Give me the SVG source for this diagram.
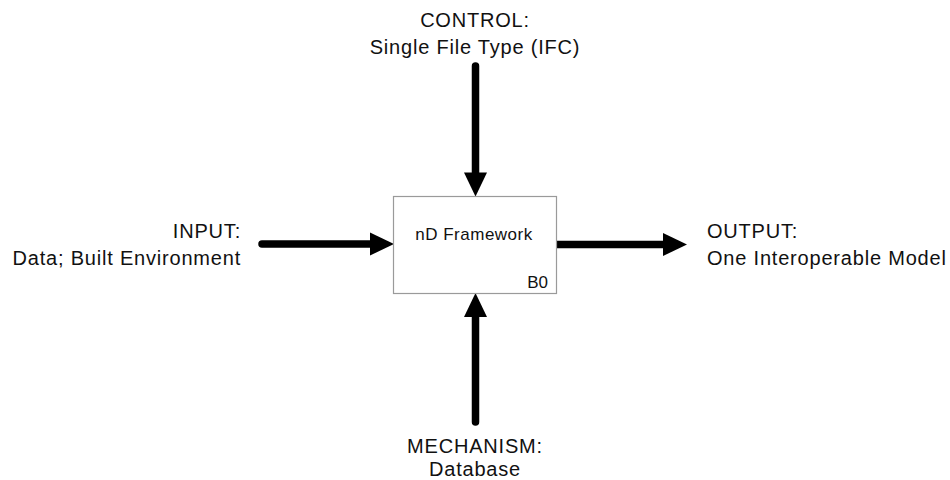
<svg xmlns="http://www.w3.org/2000/svg" width="950" height="480" viewBox="0 0 950 480">
  <style>
    .lbl { font-family: "Liberation Sans", Arial, sans-serif; font-size: 20px; letter-spacing: 0.8px; fill: #111; }
    .box { fill: #fff; stroke: #9a9a9a; stroke-width: 1.2; }
    .title { font-family: "Liberation Sans", Arial, sans-serif; font-size: 17px; letter-spacing: 0.5px; fill: #111; }
    .tag { font-family: "Liberation Sans", Arial, sans-serif; font-size: 17px; fill: #111; }
    .flow { fill: none; stroke: #000; stroke-width: 7.5; stroke-linecap: round; marker-end: url(#head); }
  </style>
  <defs>
    <marker id="head" markerUnits="userSpaceOnUse" markerWidth="25" markerHeight="24" refX="0" refY="11.5" orient="auto" overflow="visible">
      <path d="M0,0 L24,11.5 L0,23 Z" fill="#000"/>
    </marker>
  </defs>
  <rect width="950" height="480" fill="#fff"/>

  <!-- ICOM arrows into and out of the activity box -->
  <g id="connectors">
    <path id="control-arrow" class="flow" d="M475.5,66 L475.5,172.5"/>
    <path id="input-arrow" class="flow" d="M262,244 L370,244"/>
    <path id="output-arrow" class="flow" d="M557,244.5 L663,244.5"/>
    <path id="mechanism-arrow" class="flow" d="M475.5,422 L475.5,317"/>
  </g>

  <g id="activity">
    <rect class="box" x="393.5" y="196.5" width="163" height="97"/>
    <text class="title" x="474" y="240" text-anchor="middle">nD Framework</text>
    <text class="tag" x="548" y="288" text-anchor="end">B0</text>
  </g>

  <g id="control">
    <text class="lbl" x="475" y="27" text-anchor="middle">CONTROL:</text>
    <text class="lbl" x="475" y="54" text-anchor="middle">Single File Type (IFC)</text>
  </g>

  <g id="input">
    <text class="lbl" x="241" y="238" text-anchor="end">INPUT:</text>
    <text class="lbl" x="241" y="265" text-anchor="end">Data; Built Environment</text>
  </g>

  <g id="output">
    <text class="lbl" x="707" y="238">OUTPUT:</text>
    <text class="lbl" x="707" y="265">One Interoperable Model</text>
  </g>

  <g id="mechanism">
    <text class="lbl" x="475" y="453" text-anchor="middle">MECHANISM:</text>
    <text class="lbl" x="475" y="476" text-anchor="middle">Database</text>
  </g>
</svg>
